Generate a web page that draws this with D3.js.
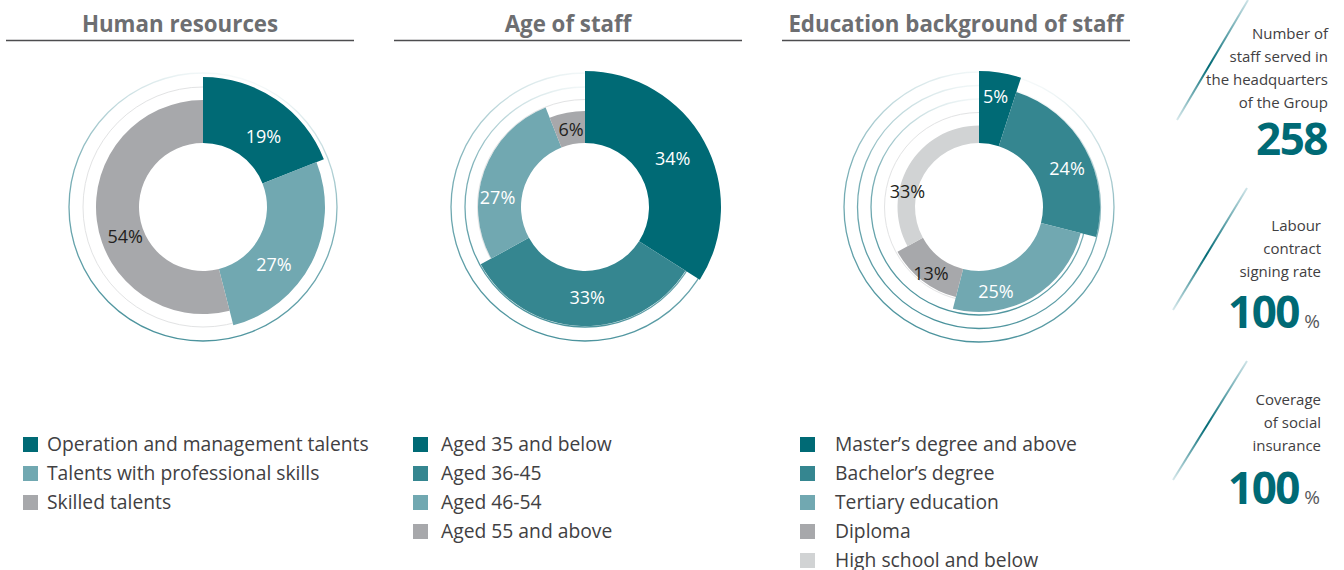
<!DOCTYPE html>
<html>
<head>
<meta charset="utf-8">
<script src="https://cdn.jsdelivr.net/npm/d3@7"></script>
<style>
  html, body { margin: 0; padding: 0; background: #ffffff; }
  svg { display: block; font-family: "Open Sans", "Noto Sans", sans-serif; }
</style>
</head>
<body>
<svg id="chart" width="1344" height="570"></svg>
<script>
// ---------- DATA ----------
const chartTitles = ["Human resources", "Age of staff", "Education background of staff"];

const hrCategories = ["Operation and management talents", "Talents with professional skills", "Skilled talents"];
const hrValues = [19, 27, 54];

const ageCategories = ["Aged 35 and below", "Aged 36-45", "Aged 46-54", "Aged 55 and above"];
const ageValues = [34, 33, 27, 6];

const eduCategories = ["Master\u2019s degree and above", "Bachelor\u2019s degree", "Tertiary education", "Diploma", "High school and below"];
const eduValues = [5, 24, 25, 13, 33];

const statLabels = [
  ["Number of", "staff served in", "the headquarters", "of the Group"],
  ["Labour", "contract", "signing rate"],
  ["Coverage", "of social", "insurance"]
];
const statValues = ["258", "100", "100"];
const statUnits = ["", "%", "%"];

// ---------- STYLE / LAYOUT ----------
const palette = {
  dark: "#006a75", mid: "#358690", light: "#71a8b1", gray: "#a7a8ab", lgray: "#d1d3d4"
};
const titleColor = "#6d6e71";
const textColor = "#414042";
const ringColor = "#4a929c";
const faintRing = "#e2e3e4";

const panels = [
  { cats: hrCategories, vals: hrValues, colors: [palette.dark, palette.light, palette.gray],
    lineX: [6, 354], cx: 203, cy: 207, outer: [130, 122, 107],
    rings: [134, 120], teal: 1, legendX: 23, textX: 47,
    labelNudge: [[6, 10], [-12, 15], [7, 19]] },
  { cats: ageCategories, vals: ageValues, colors: [palette.dark, palette.mid, palette.light, palette.gray],
    lineX: [394, 742], cx: 585, cy: 207, outer: [136, 119, 107, 96],
    rings: [134, 120, 107.5], teal: 2, legendX: 413, textX: 441,
    labelNudge: [[0, 0], [5, -1], [-7, 19], [1, 1]] },
  { cats: eduCategories, vals: eduValues, colors: [palette.dark, palette.mid, palette.light, palette.gray, palette.lgray],
    lineX: [782, 1130], cx: 979, cy: 207, outer: [136, 121, 105, 93, 81.5],
    rings: [135, 121.5, 108, 94.5], teal: 3, legendX: 800, textX: 835,
    labelNudge: [[1, -12], [7, 6], [-26, 12], [0, 4], [-9, 22]] }
];
const innerR = 64;

const svg = d3.select("#chart");
const defs = svg.append("defs");

// ring gradient (fades toward the top)
const rg = defs.append("linearGradient").attr("id", "ringGrad")
  .attr("x1", 0.62).attr("y1", 0).attr("x2", 0.38).attr("y2", 1);
rg.append("stop").attr("offset", 0).attr("stop-color", ringColor).attr("stop-opacity", 0.03);
rg.append("stop").attr("offset", 0.45).attr("stop-color", ringColor).attr("stop-opacity", 0.7);
rg.append("stop").attr("offset", 1).attr("stop-color", ringColor).attr("stop-opacity", 1);

const pie = d3.pie().sort(null).value(d => d);

panels.forEach((p, pi) => {
  const g = svg.append("g");
  // title + rule
  g.append("text")
    .attr("x", (p.lineX[0] + p.lineX[1]) / 2).attr("y", 32)
    .attr("text-anchor", "middle")
    .attr("font-size", 22.3).attr("font-weight", 700)
    .attr("fill", titleColor)
    .text(chartTitles[pi]);
  g.append("line")
    .attr("x1", p.lineX[0]).attr("x2", p.lineX[1])
    .attr("y1", 40.5).attr("y2", 40.5)
    .attr("stroke", "#4d4d4f").attr("stroke-width", 1.3);

  const dg = g.append("g").attr("transform", `translate(${p.cx},${p.cy})`);
  // rings
  dg.selectAll("circle.ring").data(p.rings).join("circle")
    .attr("class", "ring")
    .attr("r", d => d)
    .attr("fill", "none")
    .attr("stroke", (d, i) => i < p.teal ? "url(#ringGrad)" : faintRing)
    .attr("stroke-width", (d, i) => i < p.teal ? 1.3 : 1);

  const arcs = pie(p.vals);
  const arcFor = i => d3.arc().innerRadius(innerR).outerRadius(p.outer[i]);
  dg.selectAll("path.slice").data(arcs).join("path")
    .attr("class", "slice")
    .attr("d", (d, i) => arcFor(i)(d))
    .attr("fill", (d, i) => p.colors[i]);

  dg.selectAll("text.lbl").data(arcs).join("text")
    .attr("class", "lbl")
    .attr("transform", (d, i) => {
      const c = arcFor(i).centroid(d);
      const n = p.labelNudge[i];
      return `translate(${c[0] + n[0]},${c[1] + n[1]})`;
    })
    .attr("text-anchor", "middle")
    .attr("dy", "0.36em")
    .attr("font-size", 18)
    .attr("fill", (d, i) => (p.colors[i] === palette.gray || p.colors[i] === palette.lgray) ? "#231f20" : "#ffffff")
    .text(d => d.data + "%");

  // legend
  const rows = g.selectAll("g.leg").data(p.cats).join("g")
    .attr("class", "leg")
    .attr("transform", (d, i) => `translate(0,${444.5 + i * 29})`);
  rows.append("rect")
    .attr("x", p.legendX).attr("y", -7.5)
    .attr("width", 15).attr("height", 15)
    .attr("fill", (d, i) => p.colors[i]);
  rows.append("text")
    .attr("x", p.textX).attr("y", 6.8)
    .attr("font-size", 19.3).attr("fill", textColor)
    .text(d => d);
});

// ---------- STAT PANEL ----------
const stats = [
  { lineTop: 39, lineStep: 23, right: 1328, numBase: 155, numRight: 1327, slash: [[1177, 120], [1248, 0]] },
  { lineTop: 231, lineStep: 23, right: 1321, numBase: 328, numRight: 1299, slash: [[1173, 310], [1247, 188]] },
  { lineTop: 405, lineStep: 23, right: 1321, numBase: 504, numRight: 1299, slash: [[1173, 480], [1247, 361]] }
];

stats.forEach((s, i) => {
  const gid = "slashGrad" + i;
  const sg = defs.append("linearGradient").attr("id", gid)
    .attr("gradientUnits", "userSpaceOnUse")
    .attr("x1", s.slash[0][0]).attr("y1", s.slash[0][1])
    .attr("x2", s.slash[1][0]).attr("y2", s.slash[1][1]);
  sg.append("stop").attr("offset", 0).attr("stop-color", "#d8e9ec");
  sg.append("stop").attr("offset", 0.45).attr("stop-color", "#006a75");
  sg.append("stop").attr("offset", 1).attr("stop-color", "#cfe4e8");
  svg.append("line")
    .attr("x1", s.slash[0][0]).attr("y1", s.slash[0][1])
    .attr("x2", s.slash[1][0]).attr("y2", s.slash[1][1])
    .attr("stroke", `url(#${gid})`).attr("stroke-width", 2);

  const tg = svg.append("g");
  tg.selectAll("text.sl").data(statLabels[i]).join("text")
    .attr("class", "sl")
    .attr("x", s.right).attr("y", (d, j) => s.lineTop + j * s.lineStep)
    .attr("text-anchor", "end")
    .attr("font-size", 15).attr("fill", textColor)
    .text(d => d);
  tg.append("text")
    .attr("x", s.numRight).attr("y", s.numBase)
    .attr("text-anchor", "end")
    .attr("font-size", 44).attr("font-weight", 700)
    .attr("letter-spacing", -1.5)
    .attr("fill", "#006a75")
    .text(statValues[i]);
  if (statUnits[i]) {
    tg.append("text")
      .attr("x", 1320).attr("y", s.numBase)
      .attr("text-anchor", "end")
      .attr("font-size", 19).attr("fill", "#58595b")
      .text(statUnits[i]);
  }
});
</script>
</body>
</html>
